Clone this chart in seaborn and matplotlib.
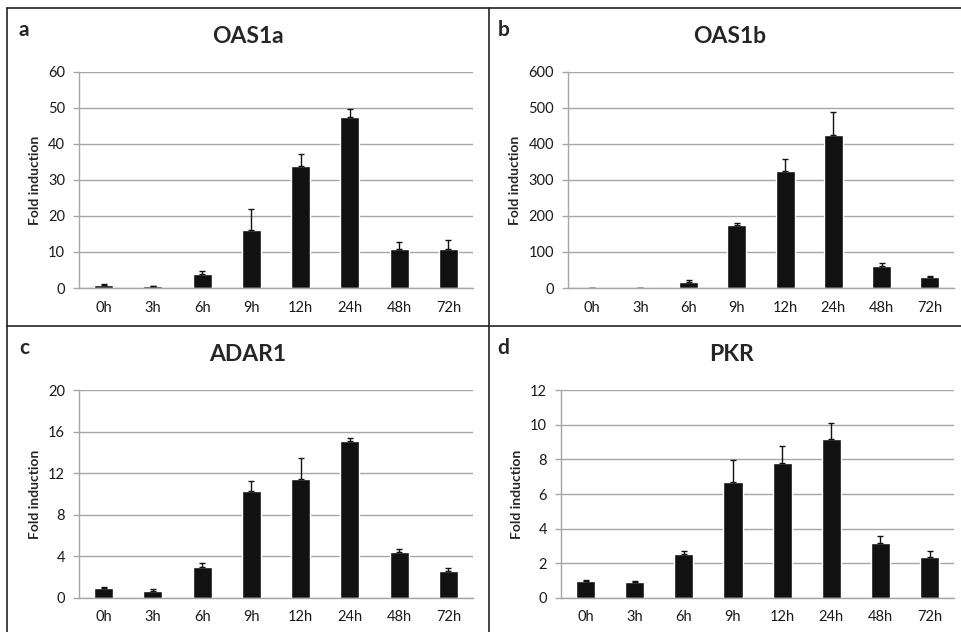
import numpy as np
import pandas as pd
import matplotlib
matplotlib.use("Agg")
import matplotlib.pyplot as plt
from matplotlib.lines import Line2D
import seaborn as sns

# time points
times = ["0h", "3h", "6h", "9h", "12h", "24h", "48h", "72h"]

# mean fold induction and upper error per gene
oas1a = [0.95, 0.45, 4.0, 16.2, 33.9, 47.4, 10.8, 10.8]
oas1a_err = [0.1, 0.2, 0.7, 5.8, 3.2, 2.2, 1.9, 2.5]

oas1b = [1.0, 0.5, 17.6, 175, 326, 425, 60, 30]
oas1b_err = [0.3, 0.2, 3.5, 6, 31, 64, 9, 4]

adar1 = [0.99, 0.70, 2.98, 10.25, 11.4, 15.07, 4.42, 2.59]
adar1_err = [0.05, 0.12, 0.41, 1.02, 2.05, 0.29, 0.28, 0.29]

pkr = [0.98, 0.92, 2.56, 6.69, 7.81, 9.17, 3.17, 2.35]
pkr_err = [0.03, 0.08, 0.13, 1.27, 0.96, 0.91, 0.39, 0.38]

sns.set_theme(style="white")
plt.rcParams['font.family'] = ['Lato', 'DejaVu Sans']

fig = plt.figure(figsize=(9.61, 6.32), dpi=100)

# letter, title, values, errors, y ticks, axes rect, title x (axes fraction)
panels = [
    ("a", "OAS1a", oas1a, oas1a_err, [0, 10, 20, 30, 40, 50, 60], [0.0822, 0.5443, 0.410, 0.3418], 0.429),
    ("b", "OAS1b", oas1b, oas1b_err, [0, 100, 200, 300, 400, 500, 600], [0.5910, 0.5443, 0.4017, 0.3418], 0.42),
    ("c", "ADAR1", adar1, adar1_err, [0, 4, 8, 12, 16, 20], [0.0822, 0.0538, 0.410, 0.3291], 0.429),
    ("d", "PKR", pkr, pkr_err, [0, 2, 4, 6, 8, 10, 12], [0.5838, 0.0538, 0.4090, 0.3291], 0.433),
]

grey = "#a6a6a6"

for letter, name, vals, errs, yt, pos, tx in panels:
    ax = fig.add_axes(pos)
    df = pd.DataFrame({"time": times, "fold": vals})
    sns.barplot(data=df, x="time", y="fold", color="#111111", width=0.39,
                errorbar=None, ax=ax, saturation=1)
    xs = ax.get_xticks()
    ax.errorbar(xs, vals, yerr=[np.zeros(len(errs)), errs], fmt="none",
                ecolor="#111111", elinewidth=1, capsize=2.5, capthick=1)
    ax.set_xlim(-0.5, 7.5)
    ax.set_ylim(yt[0], yt[-1])
    ax.set_yticks(yt)
    ax.yaxis.grid(True, color=grey, linewidth=1)
    ax.set_axisbelow(True)
    for s in ["top", "right"]:
        ax.spines[s].set_visible(False)
    for s in ["left", "bottom"]:
        ax.spines[s].set_color(grey)
        ax.spines[s].set_linewidth(1)
    ax.set_xticks(np.arange(-0.5, 8, 1), minor=True)
    ax.tick_params(axis="x", which="major", length=0, labelsize=10.5, pad=9, colors="#1a1a1a")
    ax.tick_params(axis="x", which="minor", length=4, color=grey, width=1, direction="out")
    ax.tick_params(axis="y", which="major", length=4, color=grey, width=1, direction="out",
                   labelsize=10.5, labelcolor="#1a1a1a", left=True, pad=6)
    ax.set_xlabel("")
    ax.set_ylabel("Fold induction", fontsize=10, fontweight="bold", labelpad=5)
    ax.set_title(name, fontsize=16.5, fontweight="bold", pad=21, x=tx)
    fx = 0.025 if letter in "ac" else 0.524
    fy = 0.952 if letter in "ab" else 0.45
    fig.text(fx, fy, letter, fontsize=15, fontweight="bold", ha="center", va="center")

# panel borders
line_kw = dict(color="#222222", linewidth=1.2, transform=fig.transFigure)
fig.add_artist(Line2D([7 / 961, 1], [1 - 7.5 / 632, 1 - 7.5 / 632], **line_kw))
fig.add_artist(Line2D([7 / 961, 7 / 961], [0, 1 - 7.5 / 632], **line_kw))
fig.add_artist(Line2D([489 / 961, 489 / 961], [0, 1 - 7.5 / 632], **line_kw))
fig.add_artist(Line2D([7 / 961, 1], [1 - 326 / 632, 1 - 326 / 632], **line_kw))

fig.savefig("out.png", dpi=100, facecolor="white")
